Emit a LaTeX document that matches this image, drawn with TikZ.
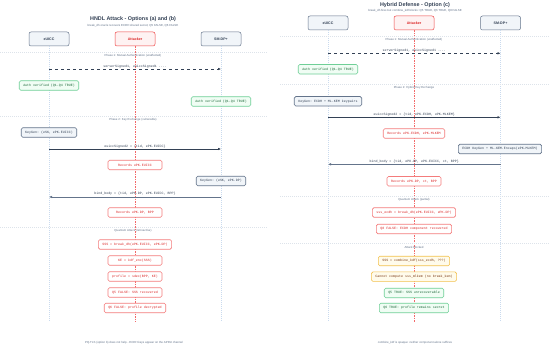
\documentclass[tikz,border=0pt]{standalone}
\usepackage{fontspec}
\setmainfont{Liberation Sans}
\setmonofont{Liberation Mono}
\usetikzlibrary{arrows.meta, positioning, calc}
\definecolor{slateDark}{HTML}{334155}
\definecolor{slateLine}{HTML}{64748B}
\definecolor{slateFill}{HTML}{F1F5F9}
\definecolor{lifeBlue}{HTML}{C9DAEE}
\definecolor{atkRed}{HTML}{EF4444}
\definecolor{atkText}{HTML}{DC2626}
\definecolor{atkFill}{HTML}{FEF2F2}
\definecolor{okGreen}{HTML}{6FCF97}
\definecolor{okFill}{HTML}{F0FDF4}
\definecolor{okText}{HTML}{166534}
\definecolor{warnAmber}{HTML}{F2C14E}
\definecolor{warnFill}{HTML}{FFFBEB}
\definecolor{warnText}{HTML}{78350F}
\definecolor{sepGray}{HTML}{DDE3EA}
\definecolor{noteGray}{HTML}{64748B}

\begin{document}
\begin{tikzpicture}[x=1pt, y=-1pt,
    actor/.style={rectangle, rounded corners=2pt, draw=slateLine, fill=slateFill,
                 line width=0.5pt, minimum width=40pt, minimum height=14pt,
                 font=\fontsize{3.6}{4}\selectfont\bfseries, text=slateDark},
    attacker/.style={actor, draw=atkRed, fill=atkFill, text=atkText},
    ptitle/.style={font=\fontsize{5.4}{6}\selectfont\bfseries, text=slateDark},
    psub/.style={font=\fontsize{2.9}{3.4}\selectfont, text=noteGray},
    life/.style={draw=lifeBlue, dash pattern=on 1pt off 1pt, line width=0.4pt},
    atkline/.style={draw=atkRed!80, dash pattern=on 1.5pt off 1pt, line width=0.45pt},
    phase/.style={draw=sepGray, dash pattern=on 1pt off 1pt, line width=0.4pt},
    phaselbl/.style={font=\fontsize{2.9}{3.4}\selectfont, text=noteGray},
    msg/.style={-{Latex[length=3pt,width=2.6pt]}, line width=0.5pt, draw=slateDark},
    reply/.style={msg, line width=0.8pt, draw=slateLine},
    msglbl/.style={font=\ttfamily\fontsize{3.3}{4}\selectfont, text=slateDark,
                 above, inner sep=1pt},
    boxbase/.style={rectangle, rounded corners=1.5pt, line width=0.6pt,
                 font=\ttfamily\fontsize{3.3}{4}\selectfont, inner xsep=4pt,
                 inner ysep=0pt, minimum height=9.5pt},
    okbox/.style={boxbase, draw=okGreen, fill=okFill, text=okText},
    keybox/.style={boxbase, draw=slateLine, fill=slateFill, text=slateDark},
    atkbox/.style={boxbase, draw=atkRed!70, fill=white, text=atkText, minimum width=54pt},
    warnbox/.style={boxbase, draw=warnAmber, fill=warnFill, text=warnText},
    caption/.style={font=\fontsize{2.9}{3.4}\selectfont, text=noteGray},
  ]
  \fill[white] (0,0) rectangle (550,347);
  \useasboundingbox (0,0) rectangle (550,347);

  % left panel: options (a) and (b)
  \node[ptitle] (tA) at (133,19) {HNDL Attack - Options (a) and (b)};
  \node[psub] (sA) at (133,26) {break\_dh oracle recovers ECDH shared secret; Q5 FALSE, Q6 FALSE};
  \node[actor] (euA) at (49,39) {eUICC};
  \node[attacker] (atA) at (135,39) {Attacker};
  \node[actor] (dpA) at (221,39) {SM-DP+};

  \coordinate (euAend) at (49,322);
  \coordinate (atAend) at (135,322);
  \coordinate (dpAend) at (221,322);
  \draw[life] (euA.south) -- (euAend);
  \draw[life] (dpA.south) -- (dpAend);
  \draw[atkline] (atA.south) -- (atAend);

  \draw[phase] (0,52) -- (268,52);
  \node[phaselbl] (pA1) at (133,56) {Phase 1: Mutual Authentication (unaffected)};
  \coordinate (mA1s) at (49,69);
  \coordinate (mA1e) at (221,69);
  \draw[msg, dashed] (mA1s) -- node[msglbl] {serverSigned1, euiccSigned1 ....} (mA1e);
  \node[okbox] (okA1) at (49,85.5) {Auth verified (Q1-Q4 TRUE)};
  \node[okbox] (okA2) at (221,101.5) {Auth verified (Q1-Q4 TRUE)};

  \draw[phase] (0,116) -- (268,116);
  \node[phaselbl] (pA2) at (133,120) {Phase 2: Key Exchange (vulnerable)};
  \node[keybox] (kgA1) at (49,132.5) {KeyGen: (eSK, ePK.EUICC)};
  \coordinate (mA2s) at (49,149);
  \coordinate (mA2e) at (221,149);
  \draw[msg] (mA2s) -- node[msglbl] {euiccSigned2 = \{tid, ePK.EUICC\}} (mA2e);
  \node[atkbox] (rA1) at (135,165) {Records ePK.EUICC};
  \node[keybox] (kgA2) at (221,181) {KeyGen: (eSK, ePK.DP)};
  \coordinate (mA3s) at (221,197);
  \coordinate (mA3e) at (49,197);
  \draw[reply] (mA3s) -- node[msglbl] {bind\_body = \{tid, ePK.DP, ePK.EUICC, BPP\}} (mA3e);
  \node[atkbox] (rA2) at (135,212.5) {Records ePK.DP, BPP};

  \draw[phase] (0,227) -- (268,227);
  \node[phaselbl] (pA3) at (133,231) {Quantum Attack (retroactive)};
  \node[atkbox] (qA1) at (135,244.5) {SSS = break\_dh(ePK.EUICC, ePK.DP)};
  \node[atkbox] (qA2) at (135,260.5) {KE = kdf\_enc(SSS)};
  \node[atkbox] (qA3) at (135,276.5) {profile = sdec(BPP, KE)};
  \node[atkbox] (qA4) at (135,292.5) {Q5 FALSE: SSS recovered};
  \node[atkbox] (qA5) at (135,308) {Q6 FALSE: profile decrypted};
  \node[caption] (cA) at (134,343) {PQ-TLS (option b) does not help - ECDH keys appear on the APDU channel};

  % right panel: option (c)
  \node[ptitle] (tC) at (415,5) {Hybrid Defense - Option (c)};
  \node[psub] (sC) at (415,10.7) {break\_dh fires but combine\_kdf blocks: Q5 TRUE, Q6 TRUE, Q8 FALSE};
  \node[actor] (euC) at (328,23) {eUICC};
  \node[attacker] (atC) at (414,23) {Attacker};
  \node[actor] (dpC) at (500.5,23) {SM-DP+};

  \coordinate (euCend) at (328,322);
  \coordinate (atCend) at (414,322);
  \coordinate (dpCend) at (500.5,322);
  \draw[life] (euC.south) -- (euCend);
  \draw[life] (dpC.south) -- (dpCend);
  \draw[atkline] (atC.south) -- (atCend);

  \draw[phase] (280,36) -- (550,36);
  \node[phaselbl] (pC1) at (414,40) {Phase 1: Mutual Authentication (unaffected)};
  \coordinate (mC1s) at (328,53.3);
  \coordinate (mC1e) at (500.5,53.3);
  \draw[msg, dashed] (mC1s) -- node[msglbl] {serverSigned1, euiccSigned1 ....} (mC1e);
  \node[okbox] (okC1) at (328,69.3) {Auth verified (Q1-Q4 TRUE)};

  \draw[phase] (280,84) -- (550,84);
  \node[phaselbl] (pC2) at (414,88) {Phase 2: Hybrid Key Exchange};
  \node[keybox] (kgC1) at (328,101.3) {KeyGen: ECDH + ML-KEM keypairs};
  \coordinate (mC2s) at (328,117.3);
  \coordinate (mC2e) at (500.5,117.3);
  \draw[msg] (mC2s) -- node[msglbl] {euiccSigned2 = \{tid, ePK.ECDH, ePK.MLKEM\}} (mC2e);
  \node[atkbox] (rC1) at (414,133.5) {Records ePK.ECDH, ePK.MLKEM};
  \node[keybox] (kgC2) at (500,149) {ECDH KeyGen + ML-KEM.Encaps(ePK.MLKEM)};
  \coordinate (mC3s) at (500.5,164.3);
  \coordinate (mC3e) at (328,164.3);
  \draw[reply] (mC3s) -- node[msglbl] {bind\_body = \{tid, ePK.DP, ePK.EUICC, ct, BPP\}} (mC3e);
  \node[atkbox] (rC2) at (414,181.3) {Records ePK.DP, ct, BPP};

  \draw[phase] (280,196) -- (550,196);
  \node[phaselbl] (pC3) at (414,200) {Quantum Attack (partial)};
  \node[atkbox] (qC1) at (414,212.5) {sss\_ecdh = break\_dh(ePK.EUICC, ePK.DP)};
  \node[atkbox] (qC2) at (414,229) {Q8 FALSE: ECDH component recovered};

  \draw[phase] (280,243.3) -- (550,243.3);
  \node[phaselbl] (pC4) at (414,247.3) {Attack blocked};
  \node[warnbox] (wC1) at (414,261) {SSS = combine\_kdf(sss\_ecdh, ???)};
  \node[warnbox] (wC2) at (414,276.7) {Cannot compute sss\_mlkem (no break\_kem)};
  \node[okbox] (okC2) at (414,293) {Q5 TRUE: SSS unrecoverable};
  \node[okbox] (okC3) at (414,308) {Q6 TRUE: profile remains secret};
  \node[caption] (cC) at (415,343) {combine\_kdf is opaque: neither component alone suffices};
\end{tikzpicture}
\end{document}
